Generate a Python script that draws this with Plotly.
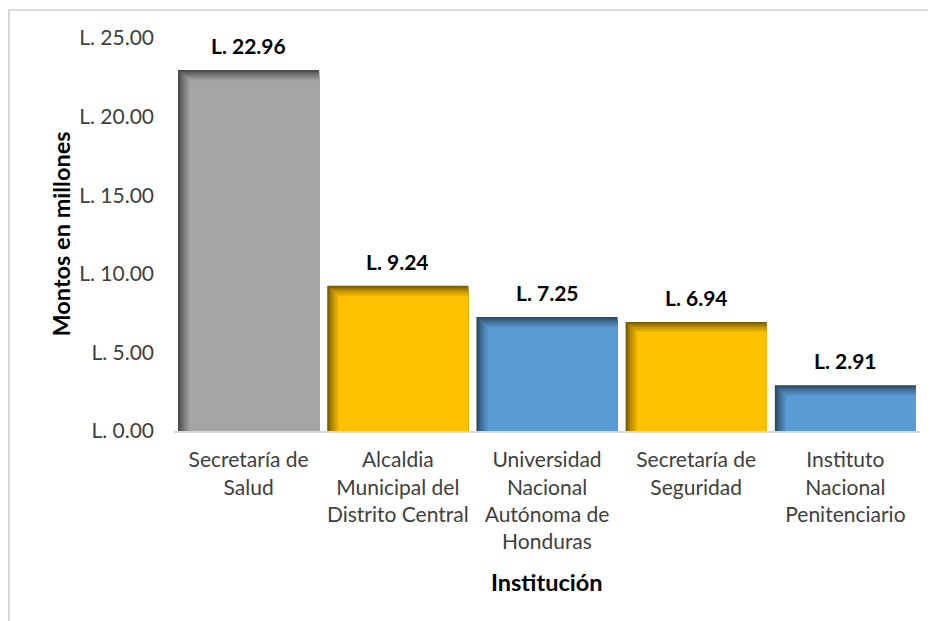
import plotly.graph_objects as go

# --- data
instituciones = [
    "Secretaría de<br>Salud",
    "Alcaldia<br>Municipal del<br>Distrito Central",
    "Universidad<br>Nacional<br>Autónoma de<br>Honduras",
    "Secretaría de<br>Seguridad",
    "Instituto<br>Nacional<br>Penitenciario",
]
montos = [22.96, 9.24, 7.25, 6.94, 2.91]
colores = ["#A5A5A5", "#FFC000", "#5B9BD5", "#FFC000", "#5B9BD5"]
sombras = ["#4a4a4a", "#7a5c00", "#2b4a66", "#7a5c00", "#2b4a66"]

FONT = "Lato, Calibri, sans-serif"


def mezcla(c1, c2, t):
    a = [int(c1[i:i + 2], 16) for i in (1, 3, 5)]
    b = [int(c2[i:i + 2], 16) for i in (1, 3, 5)]
    return "rgb(%d,%d,%d)" % tuple(round(a[j] + (b[j] - a[j]) * t) for j in range(3))


fig = go.Figure()

# bevel effect: stacked layers, each a bit inset from the left/top
W = 0.946
N = 7
DX = 1.9 / 149     # px -> category units
DY = 1.7 / 15.72   # px -> value units
for k in range(N):
    t = (k / (N - 1)) ** 0.8
    fig.add_trace(go.Bar(
        x=instituciones,
        y=[v - k * DY for v in montos],
        width=W - k * DX,
        offset=-W / 2 + k * DX,
        marker=dict(color=[mezcla(s, c, t) for s, c in zip(sombras, colores)], line_width=0),
        showlegend=False,
        hoverinfo="skip" if k < N - 1 else None,
    ))

for cat, v in zip(instituciones, montos):
    fig.add_annotation(
        x=cat, y=v, text=f"<b>L. {v:.2f}</b>", showarrow=False,
        yanchor="bottom", yshift=10,
        font=dict(family=FONT, size=21, color="#000000"),
    )

fig.add_annotation(
    x=(60 - 166 - 8) / 746, y=0.5, xref="paper", yref="paper",
    xanchor="center", yanchor="middle", text="<b>Montos en millones</b>",
    textangle=-90, showarrow=False, font=dict(family=FONT, size=23.5, color="#000000"),
)
fig.add_annotation(
    x=0.5, y=(423 - 574) / 393, xref="paper", yref="paper",
    xanchor="center", yanchor="middle", text="<b>Institución</b>",
    showarrow=False, font=dict(family=FONT, size=23.5, color="#000000"),
)

# chart frame (only top/left visible in the reference)
fig.add_shape(
    type="rect", xref="paper", yref="paper",
    x0=(1 - 166) / 746, x1=1.2, y0=-0.6, y1=(423 - 2) / 393,
    line=dict(color="#d9d9d9", width=2), layer="below",
)

fig.update_layout(
    width=928, height=613,
    margin=dict(l=166, r=16, t=30, b=190),
    barmode="overlay",
    bargap=0.05,
    plot_bgcolor="white",
    paper_bgcolor="white",
    font=dict(family=FONT, size=21, color="#404040"),
)
fig.update_xaxes(
    type="category", showline=True, linecolor="#d9d9d9", linewidth=2,
    ticks="", ticklabelstandoff=9, showgrid=False,
    tickfont=dict(family=FONT, size=21, color="#404040"),
)
fig.update_yaxes(
    range=[0, 25], dtick=5, tickprefix="L. ", tickformat=".2f",
    showgrid=False, zeroline=False, showline=False,
    ticklabelstandoff=19,
    tickfont=dict(family=FONT, size=21, color="#404040"),
)

fig.write_html("out.html")
